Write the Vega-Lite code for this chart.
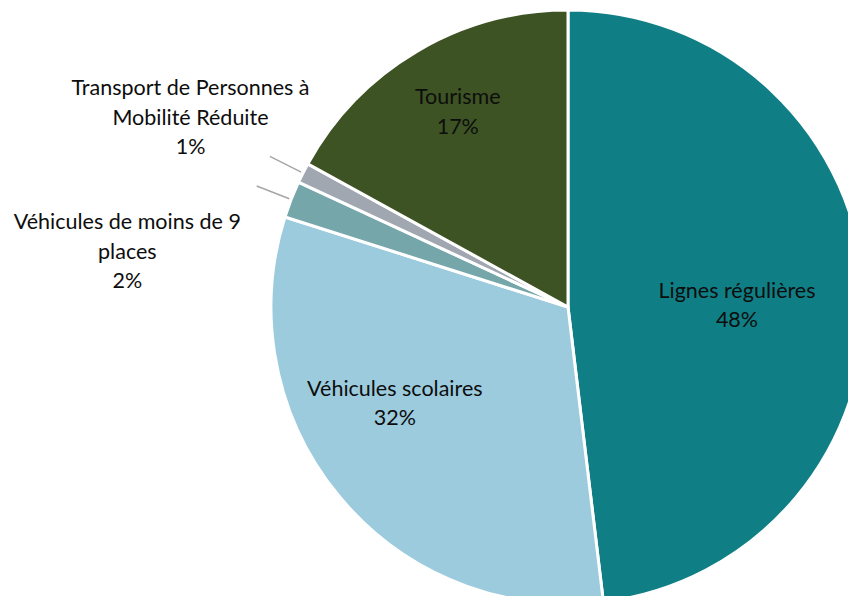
{
  "$schema": "https://vega.github.io/schema/vega-lite/v6.json",
  "width": 1136,
  "height": 614,
  "autosize": "none",
  "padding": 0,
  "background": "white",
  "config": {"view": {"stroke": null}, "text": {"font": "Lato", "fontSize": 21.5, "lineBreak": "\n", "lineHeight": 29.5, "color": "#0d0d0d"}},
  "data": {"values": [
    {"idx": 1, "category": "Lignes régulières", "label": "Lignes régulières", "value": 48.1},
    {"idx": 2, "category": "Véhicules scolaires", "label": "Véhicules scolaires", "value": 31.8},
    {"idx": 3, "category": "Véhicules de moins de 9 places", "label": "Véhicules de moins de 9\nplaces", "value": 2.0},
    {"idx": 4, "category": "Transport de Personnes à Mobilité Réduite", "label": "Transport de Personnes à\nMobilité Réduite", "value": 1.1},
    {"idx": 5, "category": "Tourisme", "label": "Tourisme", "value": 17.0}
  ]},
  "transform": [
    {"calculate": "datum.label + '\\n' + format(datum.value / 100, '.0%')", "as": "txt"}
  ],
  "encoding": {
    "theta": {"field": "value", "type": "quantitative", "stack": true},
    "order": {"field": "idx", "type": "quantitative"}
  },
  "layer": [
    {
      "mark": {"type": "arc", "outerRadius": 297, "stroke": "white", "strokeWidth": 3},
      "encoding": {
        "color": {"field": "category", "type": "nominal", "legend": null,
          "scale": {"domain": ["Lignes régulières", "Véhicules scolaires", "Véhicules de moins de 9 places", "Transport de Personnes à Mobilité Réduite", "Tourisme"],
                    "range": ["#0F7F85", "#9CCBDD", "#75A7AA", "#A1A7B1", "#3D5323"]}}
      }
    },
    {
      "mark": {"type": "arc", "innerRadius": 299, "outerRadius": 334, "padAngle": 1.5, "fillOpacity": 0, "stroke": "#A6A6A6", "strokeWidth": 1.5},
      "encoding": {
        "strokeOpacity": {"condition": {"test": "datum.idx >= 3 && datum.idx <= 4", "value": 1}, "value": 0}
      }
    },
    {
      "mark": {"type": "text", "radius": 169, "thetaOffset": 0.07, "dy": -17},
      "encoding": {"text": {"condition": {"test": "datum.idx == 1", "field": "txt"}, "value": ""}}
    },
    {
      "mark": {"type": "text", "radius": 198, "thetaOffset": 0.185, "dy": -13},
      "encoding": {"text": {"condition": {"test": "datum.idx == 2", "field": "txt"}, "value": ""}}
    },
    {
      "mark": {"type": "text", "radius": 444, "thetaOffset": -0.248, "dy": -29.5},
      "encoding": {"text": {"condition": {"test": "datum.idx == 3", "field": "txt"}, "value": ""}}
    },
    {
      "mark": {"type": "text", "radius": 423, "thetaOffset": 0, "dy": -27},
      "encoding": {"text": {"condition": {"test": "datum.idx == 4", "field": "txt"}, "value": ""}}
    },
    {
      "mark": {"type": "text", "radius": 223, "thetaOffset": 0.017, "dy": -15},
      "encoding": {"text": {"condition": {"test": "datum.idx == 5", "field": "txt"}, "value": ""}}
    }
  ]
}
